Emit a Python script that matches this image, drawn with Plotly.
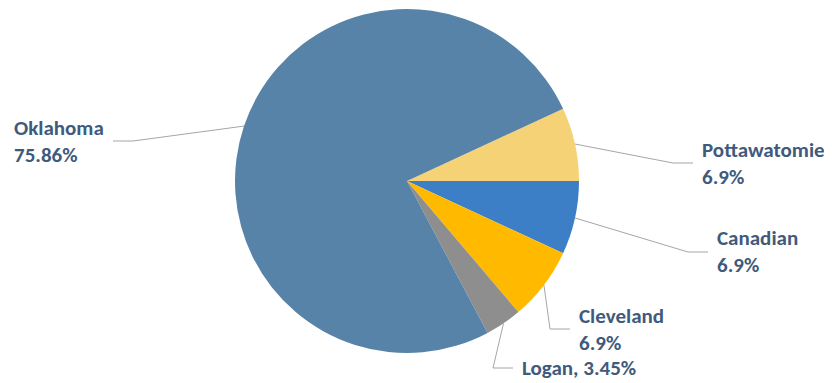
import math
import plotly.graph_objects as go

# counties and their share (counts)
counties = ["Pottawatomie", "Canadian", "Cleveland", "Logan", "Oklahoma"]
counts = [2, 2, 2, 1, 22]
pct_labels = ["6.9%", "6.9%", "6.9%", "3.45%", "75.86%"]
colors = ["#F5D276", "#3D7FC6", "#FFBA00", "#8E8E8E", "#5883A8"]

# the page body has an 8px margin, so work in page pixels and shift back
OFF = 8
W, H = 832 - OFF, 383 - OFF
cx, cy, r = 407 - OFF, 181 - OFF, 172
total = sum(counts)
rotation = 90 - 360 * counts[0] / total

fig = go.Figure(go.Pie(
    labels=counties, values=counts, sort=False, direction="clockwise",
    rotation=rotation, marker=dict(colors=colors, line=dict(width=0)),
    textinfo="none", hoverinfo="label+percent", showlegend=False,
    domain=dict(x=[(cx - r) / W, (cx + r) / W], y=[(H - cy - r) / H, (H - cy + r) / H]),
))

# label layout (page pixels): elbow point, direction of horizontal tail, one or two lines
label_pos = {
    "Pottawatomie": (673, 163, 1, True),
    "Canadian": (688, 252, 1, True),
    "Cleveland": (550, 329, 1, True),
    "Logan": (493, 368, 1, False),
    "Oklahoma": (133, 141, -1, True),
}

def px(x, y):
    return x / W, 1 - y / H

shapes, annotations = [], []
cum = 0
for name, v, pct in zip(counties, counts, pct_labels):
    mid = math.radians(rotation + 360 * (cum + v / 2) / total)
    cum += v
    ax, ay = cx + r * math.sin(mid), cy - r * math.cos(mid)
    ex, ey, d, two = label_pos[name]
    ex, ey = ex - OFF, ey - OFF
    tx = ex + 20 * d
    x0, y0 = px(ax, ay)
    x1, y1 = px(ex, ey)
    x2, y2 = px(tx, ey)
    shapes.append(dict(type="path", xref="paper", yref="paper",
                       path=f"M {x0},{y0} L {x1},{y1} L {x2},{y2}",
                       line=dict(color="#A6A6A6", width=1)))
    text = f"<b>{name}<br>{pct}</b>" if two else f"<b>{name}, {pct}</b>"
    annotations.append(dict(x=px(tx + 7 * d, ey)[0], y=y2, xref="paper", yref="paper",
                            text=text, showarrow=False, align="left",
                            xanchor="left" if d > 0 else "right", yanchor="middle",
                            font=dict(family="Carlito, Lato, sans-serif", size=21, color="#405A7C")))

fig.update_layout(width=W, height=H, margin=dict(l=0, r=0, t=0, b=0),
                  paper_bgcolor="white", plot_bgcolor="white",
                  shapes=shapes, annotations=annotations)
fig.write_html("out.html")
